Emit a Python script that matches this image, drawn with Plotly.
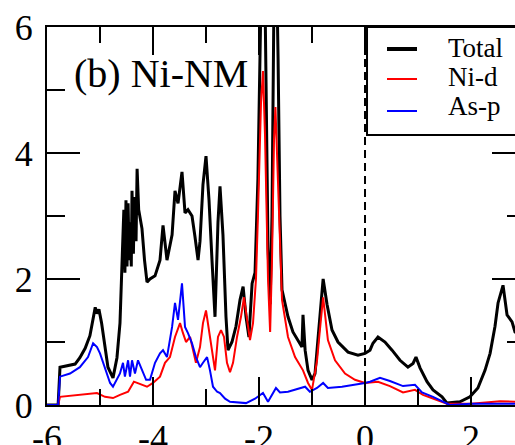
import plotly.graph_objects as go

# ---- data (energy in eV, DOS in states/eV) ----
total_e = [-6.0, -5.79, -5.755, -5.66, -5.47, -5.38, -5.28, -5.19, -5.13, -5.09, -5.057, -5.02, -4.97,
           -4.906, -4.85, -4.755, -4.68, -4.623, -4.58, -4.55, -4.53, -4.51, -4.49, -4.47, -4.45, -4.434,
           -4.41, -4.396, -4.37, -4.35, -4.32, -4.30, -4.27, -4.245, -4.208, -4.16, -4.113, -4.057, -3.962,
           -3.868, -3.811, -3.736, -3.64, -3.585, -3.528, -3.453, -3.396, -3.34, -3.264, -3.208, -3.15,
           -3.113, -3.057, -3.0, -2.943, -2.887, -2.83, -2.774, -2.736, -2.68, -2.623, -2.585, -2.51,
           -2.434, -2.358, -2.30, -2.245, -2.19, -2.13, -2.075, -2.02, -1.962, -1.925, -1.887, -1.83,
           -1.79, -1.755, -1.717, -1.68, -1.64, -1.604, -1.566, -1.453, -1.36, -1.264, -1.19, -1.17,
           -1.13, -1.075, -1.0, -0.943, -0.85, -0.79, -0.717, -0.623, -0.51, -0.32, -0.132, 0.0, 0.094,
           0.15, 0.245, 0.377, 0.51, 0.66, 0.81, 0.906, 0.962, 1.038, 1.17, 1.283, 1.453, 1.547, 1.79,
           1.98, 2.13, 2.264, 2.36, 2.453, 2.51, 2.604, 2.68, 2.774, 2.83, 2.95]
total_dos = [0.0, 0.0, 0.6, 0.62, 0.65, 0.75, 0.9, 1.1, 1.35, 1.55, 1.45, 1.52, 1.3,
             0.95, 0.6, 0.43, 0.75, 1.3, 2.2, 3.1, 2.1, 3.25, 2.2, 3.2, 2.3, 2.9,
             2.2, 3.4, 2.4, 3.3, 2.6, 3.75, 3.1, 3.0, 2.8, 2.3, 1.95, 2.0, 2.05,
             2.3, 2.85, 2.3, 2.7, 3.4, 3.2, 3.7, 3.05, 3.1, 3.0, 2.67, 2.3,
             2.6, 3.5, 3.95, 3.25, 2.3, 1.4, 2.9, 3.47, 2.7, 1.4, 0.87, 1.0,
             1.25, 1.67, 1.88, 1.4, 1.08, 1.93, 2.1, 3.6, 6.5, 8.5, 6.5, 2.5,
             1.6, 3.0, 6.5, 7.5, 5.5, 3.0, 1.83, 1.4, 1.16, 1.03, 0.92, 1.43,
             0.87, 0.55, 0.4, 0.5, 1.4, 2.0, 1.6, 1.19, 1.0, 0.84, 0.79, 0.82, 0.87,
             0.98, 1.08, 1.0, 0.87, 0.71, 0.6, 0.66, 0.76, 0.59, 0.37, 0.24, 0.13, 0.03, 0.05,
             0.13, 0.27, 0.55, 0.82, 1.25, 1.62, 1.9, 1.43, 1.32, 1.16, 1.1]

nid_e = [-6.0, -5.79, -5.755, -5.47, -5.057, -4.906, -4.755, -4.623, -4.47, -4.36, -4.245, -4.113,
         -4.0, -3.868, -3.774, -3.68, -3.585, -3.49, -3.434, -3.377, -3.30, -3.245, -3.19, -3.113,
         -3.057, -3.0, -2.943, -2.887, -2.83, -2.774, -2.717, -2.66, -2.604, -2.547, -2.49, -2.415,
         -2.34, -2.283, -2.226, -2.17, -2.113, -2.057, -2.02, -1.962, -1.925, -1.887, -1.83, -1.79,
         -1.755, -1.717, -1.69, -1.66, -1.623, -1.566, -1.453, -1.32, -1.17, -1.075, -1.0, -0.906,
         -0.85, -0.79, -0.70, -0.566, -0.377, -0.19, 0.0, 0.245, 0.47, 0.717, 0.943, 1.094, 1.358,
         1.547, 2.0, 2.547, 2.95]
nid_dos = [0.0, 0.0, 0.13, 0.15, 0.19, 0.13, 0.11, 0.16, 0.21, 0.37, 0.33, 0.29,
           0.35, 0.45, 0.67, 0.76, 1.08, 1.3, 1.14, 1.0, 1.08, 0.87, 0.67, 0.92,
           1.3, 1.5, 1.19, 0.87, 0.55, 1.08, 1.19, 1.08, 0.67, 0.52, 0.67, 1.08,
           1.4, 1.71, 1.35, 1.03, 1.3, 2.0, 3.0, 4.8, 5.3, 4.3, 2.0, 1.16,
           2.3, 4.2, 4.73, 4.0, 2.8, 1.67, 1.08, 0.76, 0.55, 0.35, 0.24, 0.7,
           1.2, 1.71, 1.03, 0.71, 0.5, 0.4, 0.35, 0.37, 0.3, 0.2, 0.24, 0.16, 0.08,
           0.02, 0.02, 0.06, 0.05]

asp_e = [-6.0, -5.79, -5.755, -5.566, -5.38, -5.226, -5.13, -5.057, -5.0, -4.906, -4.81, -4.755,
         -4.68, -4.623, -4.566, -4.53, -4.47, -4.434, -4.396, -4.34, -4.283, -4.208, -4.13, -4.057,
         -3.962, -3.868, -3.811, -3.736, -3.64, -3.585, -3.528, -3.453, -3.396, -3.34, -3.264, -3.19,
         -3.113, -3.057, -2.98, -2.925, -2.868, -2.79, -2.736, -2.64, -2.547, -2.245, -2.075, -1.925,
         -1.83, -1.68, -1.604, -1.453, -1.264, -1.13, -1.04, -0.906, -0.79, -0.70, -0.434, -0.19,
         0.0, 0.094, 0.283, 0.47, 0.717, 0.943, 1.075, 1.283, 1.47, 1.6, 2.0, 2.95]
asp_dos = [0.0, 0.0, 0.45, 0.5, 0.6, 0.76, 0.98, 0.92, 0.82, 0.6, 0.35, 0.29,
           0.4, 0.5, 0.67, 0.45, 0.71, 0.45, 0.71, 0.5, 0.71, 0.55, 0.4, 0.4,
           0.67, 0.82, 0.87, 0.76, 1.24, 1.62, 1.35, 1.93, 1.24, 1.14, 0.98, 0.76,
           0.6, 0.67, 0.76, 0.55, 0.29, 0.21, 0.19, 0.1, 0.05, 0.03, 0.1, 0.19,
           0.05, 0.27, 0.2, 0.21, 0.25, 0.29, 0.21, 0.27, 0.35, 0.27, 0.29, 0.32,
           0.35, 0.37, 0.43, 0.38, 0.3, 0.32, 0.2, 0.13, 0.05, 0.0, 0.02, 0.02]

x_tickvals = [-6, -4, -2, 0, 2]
x_ticktext = ["-6", "-4", "-2", "0", "2"]
x_minor = [-5, -3, -1, 1]
y_tickvals = [0, 2, 4, 6]
y_ticktext = ["0", "2", "4", "6"]
y_minor = [1, 3, 5]
panel_label = "(b) Ni-NM"
series_names = ["Total", "Ni-d", "As-p"]
series_colors = ["black", "#ff0000", "#0000ff"]
series_widths = [3, 2, 2]

SERIF = "Liberation Serif"

fig = go.Figure()
for name, xs, ys, col, w in zip(series_names, [total_e, nid_e, asp_e], [total_dos, nid_dos, asp_dos],
                                series_colors, series_widths):
    fig.add_trace(go.Scatter(x=xs, y=ys, mode="lines", name=name, line=dict(color=col, width=w)))
fig.add_trace(go.Scatter(x=[], y=[], yaxis="y2", showlegend=False))

# Fermi level
fig.add_shape(type="line", x0=0, x1=0, y0=0, y1=6, xref="x", yref="y",
              line=dict(color="black", width=2, dash="8px,5px"), layer="below")

# panel label
fig.add_annotation(text=panel_label, x=0.053, y=0.876, xref="paper", yref="paper",
                   xanchor="left", yanchor="middle", showarrow=False,
                   font=dict(family=SERIF, size=40, color="black"))

# legend box (drawn by hand to match the original layout)
fig.add_shape(type="rect", xref="paper", yref="paper", x0=0.6838, x1=1.06, y0=0.7143, y1=1.0,
              line=dict(color="black", width=2), fillcolor="white", layer="above")
leg_y_line = [0.9418, 0.8624, 0.7778]
leg_y_text = [0.9444, 0.8677, 0.791]
leg_line_w = [4, 2, 2]
for name, col, yl, yt, lw in zip(series_names, series_colors, leg_y_line, leg_y_text, leg_line_w):
    fig.add_shape(type="line", xref="paper", yref="paper", x0=0.7265, x1=0.7906, y0=yl, y1=yl,
                  line=dict(color=col, width=lw), layer="above")
    fig.add_annotation(text=name, x=0.852, y=yt, xref="paper", yref="paper",
                       xanchor="left", yanchor="middle", showarrow=False,
                       font=dict(family=SERIF, size=27, color="black"))

axis_common = dict(showgrid=False, zeroline=False, ticks="inside", tickwidth=2,
                   tickcolor="black", linecolor="black", linewidth=2,
                   tickfont=dict(family=SERIF, size=36, color="black"))

fig.update_layout(
    width=515, height=445,
    margin=dict(l=47, r=0, t=27, b=40, autoexpand=False),
    paper_bgcolor="white", plot_bgcolor="white",
    xaxis=dict(range=[-6, 2.83], tickmode="array", tickvals=x_tickvals, ticktext=x_ticktext,
               ticklen=28, showline=True, mirror="ticks",
               minor=dict(tickmode="array", tickvals=x_minor, ticklen=16, ticks="inside",
                          tickwidth=2, tickcolor="black"),
               **axis_common),
    yaxis=dict(range=[0, 6], tickmode="array", tickvals=y_tickvals, ticktext=y_ticktext,
               ticklen=33, showline=True, mirror=False, ticklabelstandoff=5,
               minor=dict(tickmode="array", tickvals=y_minor, ticklen=18, ticks="inside",
                          tickwidth=2, tickcolor="black"),
               **axis_common),
    yaxis2=dict(range=[0, 6], overlaying="y", side="right", showline=False, showgrid=False,
                zeroline=False, showticklabels=False, ticks="inside", tickmode="array",
                tickvals=[2, 4], ticklen=23, tickwidth=2, tickcolor="black",
                minor=dict(tickmode="array", tickvals=y_minor, ticklen=8, ticks="inside",
                           tickwidth=2, tickcolor="black")),
    showlegend=False,
)

fig.write_html("out.html", config={"displayModeBar": False},
               post_script="document.body.style.margin='0';document.body.style.overflow='hidden';")
